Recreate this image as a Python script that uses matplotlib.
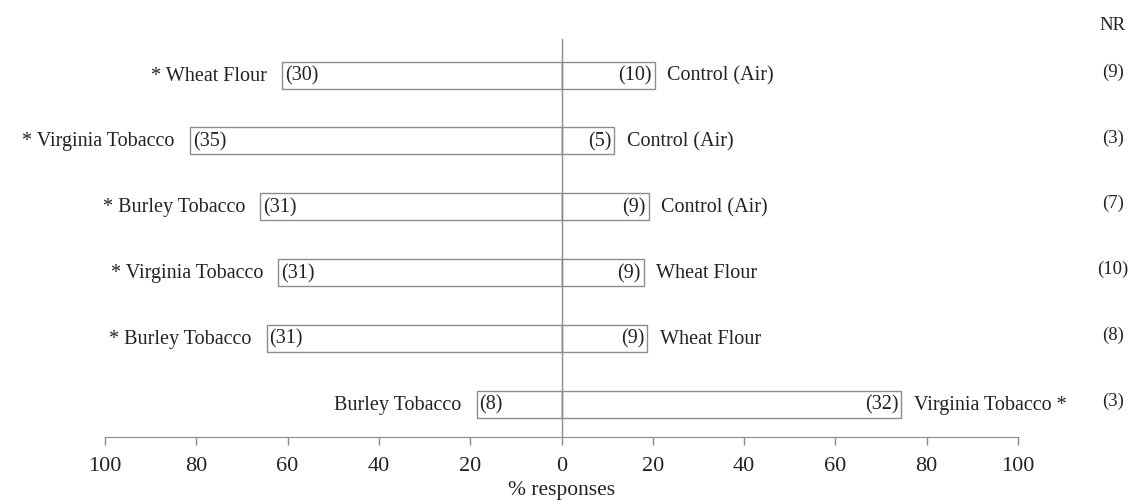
import numpy as np
import matplotlib.pyplot as plt
import matplotlib.transforms as mtransforms

# data
left_labels = ["* Wheat Flour", "* Virginia Tobacco", "* Burley Tobacco",
               "* Virginia Tobacco", "* Burley Tobacco", "Burley Tobacco"]
right_labels = ["Control (Air)", "Control (Air)", "Control (Air)",
                "Wheat Flour", "Wheat Flour", "Virginia Tobacco *"]
left_n = [30, 35, 31, 31, 31, 8]
right_n = [10, 5, 9, 9, 9, 32]
nr_n = [9, 3, 7, 10, 8, 3]
left_pct = [61.2, 81.4, 66.0, 62.0, 64.6, 18.6]
right_pct = [20.4, 11.6, 19.1, 18.0, 18.8, 74.4]
ticks = [-100, -80, -60, -40, -20, 0, 20, 40, 60, 80, 100]

plt.rcParams['font.family'] = ['Liberation Serif', 'DejaVu Serif']
txt_col = '#222222'
edge_col = '#8c8c8c'
fs = 14.5

fig = plt.figure(figsize=(11.39, 5.02), dpi=100)
ax = fig.add_axes([105/1139, (502-438)/502, (1018-105)/1139, (438-40)/502])

y = np.arange(len(left_n))
h = 0.41
ax.barh(y, [-v for v in left_pct], height=h, color='white', edgecolor=edge_col, linewidth=1)
ax.barh(y, right_pct, height=h, color='white', edgecolor=edge_col, linewidth=1)
ax.axvline(0, color=edge_col, linewidth=1)

for i in range(len(y)):
    xl = -left_pct[i]
    xr = right_pct[i]
    ax.annotate(left_labels[i], (xl, y[i]), xytext=(-11, 0), textcoords='offset points',
                ha='right', va='center', fontsize=fs, color=txt_col)
    ax.annotate("(%d)" % left_n[i], (xl, y[i]), xytext=(2, 0), textcoords='offset points',
                ha='left', va='center', fontsize=fs, color=txt_col)
    ax.annotate("(%d)" % right_n[i], (xr, y[i]), xytext=(-2, 0), textcoords='offset points',
                ha='right', va='center', fontsize=fs, color=txt_col)
    ax.annotate(right_labels[i], (xr, y[i]), xytext=(9, 0), textcoords='offset points',
                ha='left', va='center', fontsize=fs, color=txt_col)

# NR column on the far right
trans = mtransforms.blended_transform_factory(fig.transFigure, ax.transData)
for i in range(len(y)):
    ax.text(1113/1139, y[i] - 0.06, "(%d)" % nr_n[i], transform=trans, ha='center', va='center',
            fontsize=fs - 1, color=txt_col, clip_on=False)
ax.text(1113/1139, -0.77, "NR", transform=trans, ha='center', va='center',
        fontsize=fs - 1, color=txt_col, clip_on=False)

ax.set_xlim(-100, 100)
ax.set_ylim(5.5, -0.55)
ax.set_xticks(ticks)
ax.set_xticklabels([str(abs(t)) for t in ticks], fontsize=16, color=txt_col)
ax.set_yticks([])
ax.tick_params(axis='x', length=6, width=1, color=edge_col, pad=8)
for s in ['top', 'left', 'right']:
    ax.spines[s].set_visible(False)
ax.spines['bottom'].set_color(edge_col)
ax.set_xlabel("% responses", fontsize=15.5, color=txt_col, labelpad=3)

fig.savefig("out.png", dpi=100)
